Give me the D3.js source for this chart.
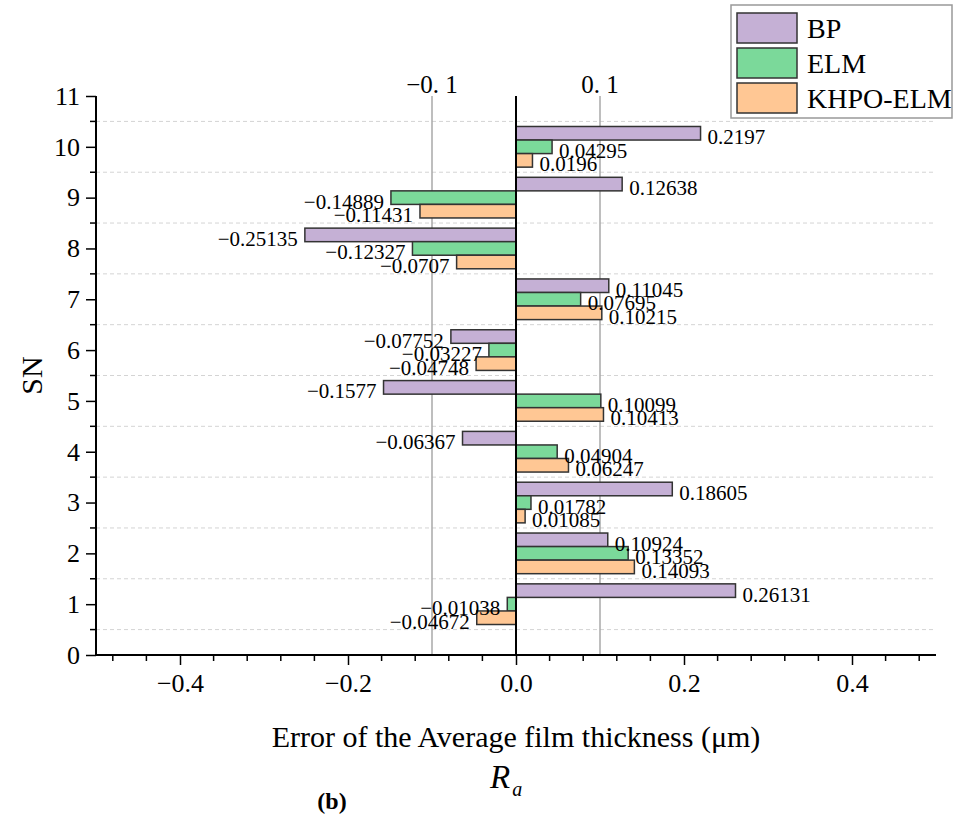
<!DOCTYPE html>
<html>
<head>
<meta charset="utf-8">
<script src="https://cdn.jsdelivr.net/npm/d3@7"></script>
<style>
  body { margin: 0; background: #fff; }
  text { font-family: "Liberation Serif", "Times New Roman", serif; }
</style>
</head>
<body>
<svg width="955" height="816"></svg>
<script>
var sn = [1, 2, 3, 4, 5, 6, 7, 8, 9, 10];
var series = ["BP", "ELM", "KHPO-ELM"];
var bp = [0.26131, 0.10924, 0.18605, -0.06367, -0.1577, -0.07752, 0.11045, -0.25135, 0.12638, 0.2197];
var elm = [-0.01038, 0.13352, 0.01782, 0.04904, 0.10099, -0.03227, 0.07695, -0.12327, -0.14889, 0.04295];
var khpo = [-0.04672, 0.14093, 0.01085, 0.06247, 0.10413, -0.04748, 0.10215, -0.0707, -0.11431, 0.0196];
var xTicks = [-0.4, -0.2, 0.0, 0.2, 0.4];
var refLines = [-0.1, 0.1];
var colors = ["#c5b0d5", "#7bd99a", "#ffc794"];

var svg = d3.select("svg");
var x = d3.scaleLinear().domain([-0.5, 0.5]).range([96, 936]);
var y = d3.scaleLinear().domain([0, 11]).range([655, 96]);
var unit = y(0) - y(1);

// dashed grid at half steps
svg.append("g").selectAll("line")
    .data(d3.range(0.5, 11, 1))
    .enter().append("line")
    .attr("x1", x(-0.5)).attr("x2", x(0.5))
    .attr("y1", d => y(d)).attr("y2", d => y(d))
    .attr("stroke", "#d4d4d4").attr("stroke-dasharray", "4,3");

// reference lines
svg.append("g").selectAll("line")
    .data(refLines)
    .enter().append("line")
    .attr("x1", d => x(d)).attr("x2", d => x(d))
    .attr("y1", y(11)).attr("y2", y(0))
    .attr("stroke", "#a8a8a8").attr("stroke-width", 1.5);
svg.append("g").selectAll("text")
    .data(refLines)
    .enter().append("text")
    .attr("x", d => x(d)).attr("y", 93)
    .attr("text-anchor", "middle")
    .style("font-size", "25px")
    .text(d => (d < 0 ? "\u22120. " : "0. ") + Math.abs(d * 10));

// bars
var rows = [];
sn.forEach((s, i) => {
    [bp, elm, khpo].forEach((arr, j) => rows.push({ sn: s, k: j, v: arr[i] }));
});
var inner = d3.scaleBand().domain([0, 1, 2]).range([-0.4 * unit, 0.4 * unit]);

svg.append("g").selectAll("rect")
    .data(rows)
    .enter().append("rect")
    .attr("x", d => x(Math.min(0, d.v)))
    .attr("width", d => Math.abs(x(d.v) - x(0)))
    .attr("y", d => y(d.sn) + inner(d.k))
    .attr("height", inner.bandwidth())
    .attr("fill", d => colors[d.k])
    .attr("stroke", "#333").attr("stroke-width", 1.5);

svg.append("g").selectAll("text")
    .data(rows)
    .enter().append("text")
    .attr("x", d => d.v >= 0 ? x(d.v) + 7 : x(d.v) - 7)
    .attr("y", d => y(d.sn) + inner(d.k) + inner.bandwidth() / 2 + 11)
    .attr("text-anchor", d => d.v >= 0 ? "start" : "end")
    .style("font-size", "21px")
    .text(d => (d.v < 0 ? "\u2212" : "") + Math.abs(d.v));

// zero line
svg.append("line")
    .attr("x1", x(0)).attr("x2", x(0))
    .attr("y1", y(11)).attr("y2", y(0))
    .attr("stroke", "#000").attr("stroke-width", 2);

// x axis
var xAxis = svg.append("g").attr("transform", "translate(0," + y(0) + ")");
xAxis.call(d3.axisBottom(x).tickValues(xTicks).tickSize(10).tickPadding(9)
    .tickFormat(d => d3.format(".1f")(d).replace("-", "\u2212")));
xAxis.append("g").selectAll("line")
    .data(d3.range(-0.48, 0.5, 0.04).filter(d => Math.abs(Math.round(d * 100) % 20) !== 0))
    .enter().append("line")
    .attr("x1", d => x(d)).attr("x2", d => x(d))
    .attr("y1", 0).attr("y2", 6)
    .attr("stroke", "#000").attr("stroke-width", 1.5);

// y axis
var yAxis = svg.append("g").attr("transform", "translate(" + x(-0.5) + ",0)");
yAxis.call(d3.axisLeft(y).tickValues(d3.range(0, 12)).tickSize(10).tickPadding(6).tickFormat(d3.format("d")));
yAxis.append("g").selectAll("line")
    .data(d3.range(0.5, 11, 1))
    .enter().append("line")
    .attr("x1", 0).attr("x2", -6)
    .attr("y1", d => y(d)).attr("y2", d => y(d))
    .attr("stroke", "#000").attr("stroke-width", 1.5);

[xAxis, yAxis].forEach(g => {
    g.select(".domain").attr("d", null);
    g.selectAll(".tick line").attr("stroke-width", 1.5);
    g.selectAll(".tick text").style("font-size", "26px").style("font-family", "Liberation Serif").attr("fill", "#000");
});
xAxis.append("line").attr("x1", x(-0.5) - 1).attr("x2", x(0.5)).attr("stroke", "#000").attr("stroke-width", 2);
yAxis.append("line").attr("y1", y(0) + 1).attr("y2", y(11)).attr("stroke", "#000").attr("stroke-width", 2);

// titles
svg.append("text").attr("x", x(0)).attr("y", 747)
    .attr("text-anchor", "middle").style("font-size", "30px")
    .text("Error of the Average film thickness (\u03bcm)");
svg.append("text").attr("transform", "translate(42," + y(5.5) + ") rotate(-90)")
    .attr("text-anchor", "middle").style("font-size", "30px")
    .text("SN");
var ra = svg.append("text").attr("x", 490).attr("y", 788).style("font-size", "33px").style("font-style", "italic");
ra.append("tspan").text("R");
ra.append("tspan").attr("dy", 8).attr("dx", 2).style("font-size", "20px").text("a");
svg.append("text").attr("x", 332).attr("y", 809)
    .attr("text-anchor", "middle").style("font-size", "24px").style("font-weight", "bold")
    .text("(b)");

// legend
var lg = svg.append("g").attr("transform", "translate(731,5)");
lg.append("rect").attr("width", 221).attr("height", 113)
    .attr("fill", "#fff").attr("stroke", "#999").attr("stroke-width", 1.5);
var li = lg.selectAll("g.item").data(series).enter().append("g")
    .attr("transform", (d, i) => "translate(6," + (8 + i * 35) + ")");
li.append("rect").attr("width", 60).attr("height", 30)
    .attr("fill", (d, i) => colors[i]).attr("stroke", "#333").attr("stroke-width", 1.5);
li.append("text").attr("x", 70).attr("y", 25).style("font-size", "28px").text(d => d);
</script>
</body>
</html>
